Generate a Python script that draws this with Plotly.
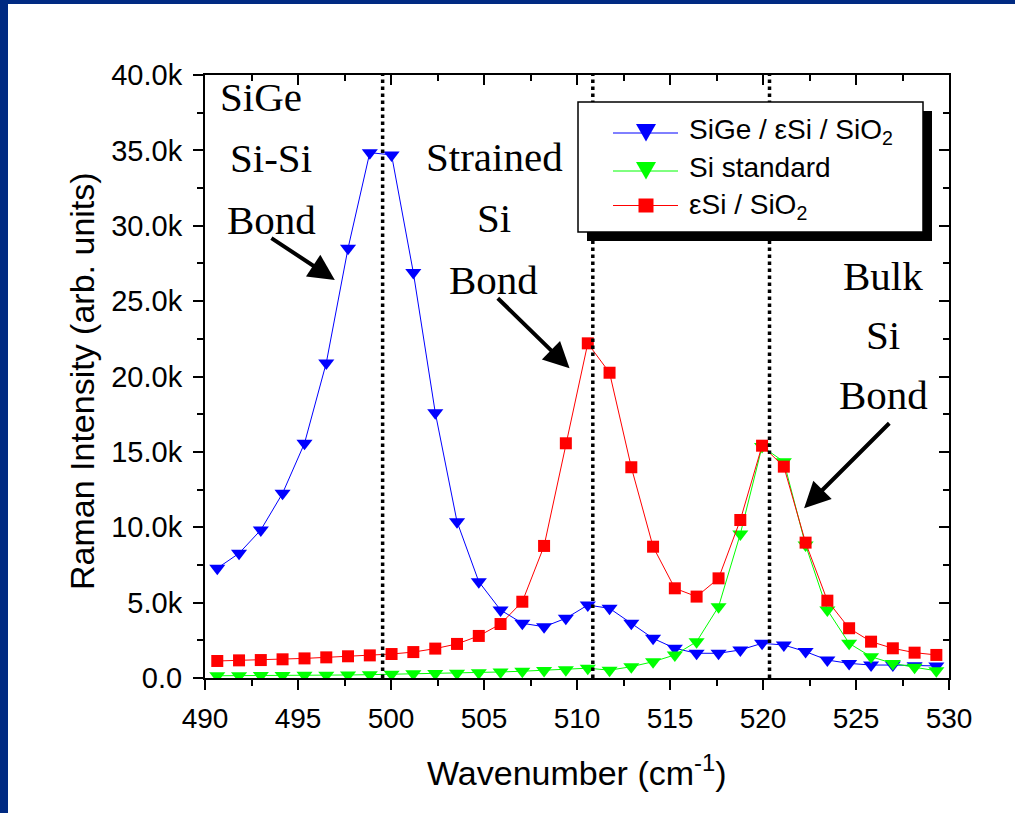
import plotly.graph_objects as go

# ---------------- data ----------------
wavenumber = [490.66, 491.83, 493.00, 494.17, 495.35, 496.52, 497.69, 498.86,
              500.03, 501.20, 502.38, 503.55, 504.72, 505.89, 507.06, 508.23,
              509.40, 510.58, 511.75, 512.92, 514.09, 515.26, 516.43, 517.61,
              518.78, 519.95, 521.12, 522.29, 523.46, 524.63, 525.81, 526.98,
              528.15, 529.32]

sige_esi_sio2 = [7280, 8270, 9820, 12250, 15570, 20900, 28500, 34850,
                 34700, 26900, 17600, 10370, 6390, 4510, 3630, 3400,
                 3960, 4840, 4620, 3630, 2630, 1970, 1640, 1640,
                 1860, 2300, 2190, 1750, 1190, 970, 860, 860,
                 820, 800]

si_standard = [150, 150, 160, 170, 180, 190, 200, 220,
               250, 280, 300, 310, 350, 400, 450, 500,
               550, 650, 520, 750, 1080, 1530, 2410, 4730,
               9550, 15350, 14350, 8820, 4510, 2300, 1410, 970,
               710, 480]

esi_sio2 = [1130, 1170, 1190, 1240, 1300, 1370, 1440, 1500,
            1590, 1720, 1950, 2260, 2790, 3580, 5060, 8760,
            15570, 22200, 20250, 13980, 8710, 5950, 5400, 6610,
            10480, 15410, 14020, 8980, 5130, 3300, 2410, 1970,
            1680, 1530]

series_names = ["SiGe / \u03b5Si / SiO<sub>2</sub>", "Si standard", "\u03b5Si / SiO<sub>2</sub>"]
series_colors = ["#0000FF", "#00FF00", "#FF0000"]
series_symbols = ["triangle-down", "triangle-down", "square"]
series_sizes = [14, 14, 12]

peak_positions = [499.55, 510.85, 520.35]

x_tick_vals = [490, 495, 500, 505, 510, 515, 520, 525, 530]
y_tick_vals = [0, 5000, 10000, 15000, 20000, 25000, 30000, 35000, 40000]
y_tick_text = ["0.0", "5.0k", "10.0k", "15.0k", "20.0k", "25.0k", "30.0k", "35.0k", "40.0k"]

# text labels: (text, x, y)
labels = [("SiGe", 493.0, 38540), ("Si-Si", 493.57, 34490), ("Bond", 493.6, 30350),
          ("Strained", 505.57, 34560), ("Si", 505.52, 30510), ("Bond", 505.52, 26370),
          ("Bulk", 526.46, 26700), ("Si", 526.46, 22750), ("Bond", 526.46, 18770)]

# arrows: (tail x, tail y, head x, head y)
arrows = [(493.49, 29250, 496.98, 26400),
          (505.66, 25290, 509.60, 20540),
          (526.87, 17000, 522.21, 11260)]

# ---------------- figure ----------------
W, H = 1015, 813
L, R, T, B = 205, 66, 75, 135
PW, PH = W - L - R, H - T - B


def px(xp):
    return (xp - L) / PW


def py(yp):
    return (H - B - yp) / PH


fig = go.Figure()
series = [sige_esi_sio2, si_standard, esi_sio2]
for name, vals, col, sym, sz in zip(series_names, series, series_colors, series_symbols, series_sizes):
    fig.add_trace(go.Scatter(
        x=wavenumber, y=vals, name=name, mode="lines+markers",
        line=dict(color=col, width=1),
        marker=dict(symbol=sym, size=sz, color=col, line=dict(width=0)),
        showlegend=False,
    ))

# empty trace that creates the mirrored axes (top/right with inside ticks)
fig.add_trace(go.Scatter(x=[], y=[], xaxis="x2", yaxis="y2", showlegend=False, hoverinfo="skip"))

FONT = "Liberation Sans, Arial, sans-serif"
SERIF = "Liberation Serif, Times New Roman, serif"

tick_common = dict(tickwidth=2, tickcolor="black", showline=True, linecolor="black", linewidth=2,
                   showgrid=False, zeroline=False)

fig.update_layout(
    width=W, height=H,
    margin=dict(l=L, r=R, t=T, b=B),
    paper_bgcolor="white", plot_bgcolor="white",
    font=dict(family=FONT, color="black"),
    showlegend=False,
    xaxis=dict(range=[490, 530], tickvals=x_tick_vals, ticks="outside", ticklen=10,
               tickfont=dict(size=28, family=FONT), ticklabelstandoff=4,
               minor=dict(dtick=2.5, ticks="outside", ticklen=6, tickwidth=2, tickcolor="black", showgrid=False),
               **tick_common),
    yaxis=dict(range=[0, 40000], tickvals=y_tick_vals, ticktext=y_tick_text, ticks="outside", ticklen=10,
               tickfont=dict(size=29, family=FONT), ticklabelstandoff=5,
               minor=dict(dtick=2500, ticks="outside", ticklen=6, tickwidth=2, tickcolor="black", showgrid=False),
               **tick_common),
    xaxis2=dict(range=[490, 530], overlaying="x", side="top", anchor="y2", tickvals=x_tick_vals,
                ticks="inside", ticklen=10, showticklabels=False,
                minor=dict(dtick=2.5, ticks="inside", ticklen=6, tickwidth=2, tickcolor="black", showgrid=False),
                **tick_common),
    yaxis2=dict(range=[0, 40000], overlaying="y", side="right", anchor="x2", tickvals=y_tick_vals,
                ticks="inside", ticklen=10, showticklabels=False,
                minor=dict(dtick=2500, ticks="inside", ticklen=6, tickwidth=2, tickcolor="black", showgrid=False),
                **tick_common),
)

shapes = []
for pp in peak_positions:
    shapes.append(dict(type="line", xref="x", yref="paper", x0=pp, x1=pp, y0=0, y1=1,
                       line=dict(color="black", width=3.5, dash="dot"), layer="above"))

# ---- legend box (drawn by hand to reproduce the drop shadow) ----
LX0, LX1, LY0, LY1 = 578, 923, 102, 232
SH = 9
shapes.append(dict(type="rect", xref="paper", yref="paper", x0=px(LX0 + SH), x1=px(LX1 + SH),
                   y0=py(LY1 + SH), y1=py(LY0 + SH), fillcolor="black", line=dict(width=0), layer="above"))
shapes.append(dict(type="rect", xref="paper", yref="paper", x0=px(LX0), x1=px(LX1),
                   y0=py(LY1), y1=py(LY0), fillcolor="white", line=dict(color="black", width=1.5), layer="above"))

entry_y = [133, 171, 205.5]
text_y = [131, 168, 206]
GX0, GX1, GC = 613, 678, 646
for ey, col, sym in zip(entry_y, series_colors, series_symbols):
    shapes.append(dict(type="line", xref="paper", yref="paper", x0=px(GX0), x1=px(GX1), y0=py(ey), y1=py(ey),
                       line=dict(color=col, width=1), layer="above"))
    if sym == "square":
        shapes.append(dict(type="rect", xref="paper", yref="paper", x0=px(GC - 7.5), x1=px(GC + 7.5),
                           y0=py(ey + 7), y1=py(ey - 7), fillcolor=col, line=dict(width=0), layer="above"))
    else:
        path = "M {:.5f},{:.5f} L {:.5f},{:.5f} L {:.5f},{:.5f} Z".format(
            px(GC - 10), py(ey - 9), px(GC + 10), py(ey - 9), px(GC), py(ey + 8.5))
        shapes.append(dict(type="path", xref="paper", yref="paper", path=path, fillcolor=col,
                           line=dict(width=0), layer="above"))

# navy frame of the slide (top and left edges)
NAVY = "#002A82"
shapes.append(dict(type="rect", xref="paper", yref="paper", x0=px(0), x1=px(8), y0=py(H), y1=py(0),
                   fillcolor=NAVY, line=dict(width=0), layer="above"))
shapes.append(dict(type="rect", xref="paper", yref="paper", x0=px(0), x1=px(W), y0=py(4), y1=py(0),
                   fillcolor=NAVY, line=dict(width=0), layer="above"))
fig.update_layout(shapes=shapes)

annotations = []
for name, ty in zip(series_names, text_y):
    annotations.append(dict(text=name, x=px(687), y=py(ty), xref="paper", yref="paper", showarrow=False,
                            xanchor="left", yanchor="middle", font=dict(family=FONT, size=28, color="black")))
for txt, xx, yy in labels:
    annotations.append(dict(text=txt, x=xx, y=yy, xref="x", yref="y", showarrow=False,
                            xanchor="center", yanchor="middle",
                            font=dict(family=SERIF, size=41, color="black")))
for tx, ty, hx, hy in arrows:
    annotations.append(dict(text="", x=hx, y=hy, ax=tx, ay=ty, xref="x", yref="y", axref="x", ayref="y",
                            showarrow=True, arrowhead=2, arrowsize=1.3, arrowwidth=4, arrowcolor="black",
                            standoff=0, startstandoff=0))
# axis titles
annotations.append(dict(text="Wavenumber (cm<sup>-1</sup>)", x=px(577), y=py(770), xref="paper", yref="paper",
                        showarrow=False, xanchor="center", yanchor="middle",
                        font=dict(family=FONT, size=34, color="black")))
annotations.append(dict(text="Raman Intensity (arb. units)", x=px(82), y=py(381), xref="paper", yref="paper",
                        showarrow=False, xanchor="center", yanchor="middle", textangle=-90,
                        font=dict(family=FONT, size=34, color="black")))
fig.update_layout(annotations=annotations)

fig.write_html("out.html")
